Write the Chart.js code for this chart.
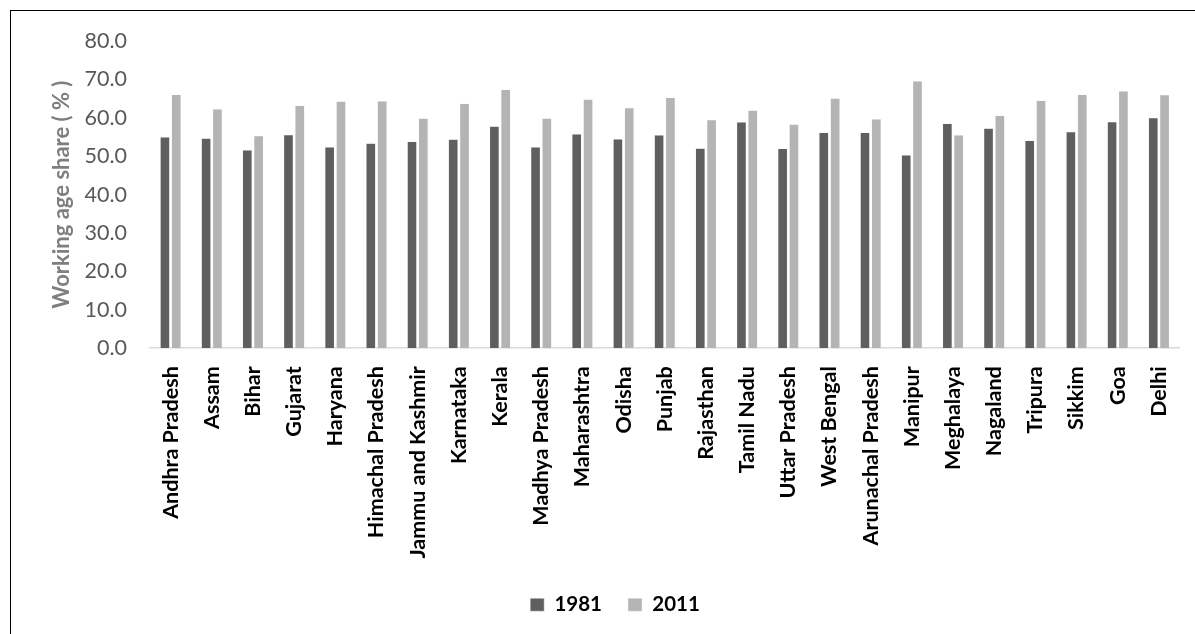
<!DOCTYPE html>
<html>
<head>
<meta charset="utf-8">
<script src="https://cdn.jsdelivr.net/npm/chart.js@4"></script>
<style>
  html, body { margin: 0; padding: 0; background: #fff; }
  #wrap { position: relative; width: 1195px; height: 634px; overflow: hidden; }
  #frame { position: absolute; left: 10px; top: 10px; width: 1200px; height: 700px; border-left: 1.5px solid #000; border-top: 1.5px solid #000; box-sizing: border-box; pointer-events: none; }
  canvas { position: absolute; left: 0; top: 0; }
</style>
</head>
<body>
<div id="wrap">
  <canvas id="c" width="1195" height="634"></canvas>
  <div id="frame"></div>
</div>
<script>
const categories = ["Andhra Pradesh","Assam","Bihar","Gujarat","Haryana","Himachal Pradesh","Jammu and Kashmir","Karnataka","Kerala","Madhya Pradesh","Maharashtra","Odisha","Punjab","Rajasthan","Tamil Nadu","Uttar Pradesh","West Bengal","Arunachal Pradesh","Manipur","Meghalaya","Nagaland","Tripura","Sikkim","Goa","Delhi"];
const values1981 = [55.0,54.7,51.6,55.6,52.4,53.4,53.8,54.4,57.8,52.4,55.8,54.5,55.5,52.1,58.9,52.0,56.2,56.2,50.3,58.5,57.3,54.1,56.4,59.0,60.0];
const values2011 = [66.1,62.3,55.3,63.2,64.3,64.4,59.9,63.7,67.4,59.9,64.8,62.6,65.3,59.5,62.0,58.3,65.1,59.7,69.6,55.5,60.6,64.5,66.1,67.0,66.0];
const seriesLabels = ["1981","2011"];
const yTicks = [0,10,20,30,40,50,60,70,80];

new Chart(document.getElementById('c'), {
  type: 'bar',
  data: {
    labels: categories,
    datasets: [
      { label: seriesLabels[0], data: values1981, backgroundColor: '#5f5f5f', borderColor: '#f0f0f0', borderWidth: 0.5, categoryPercentage: 0.55, barPercentage: 0.85 },
      { label: seriesLabels[1], data: values2011, backgroundColor: '#b4b4b4', borderColor: '#f0f0f0', borderWidth: 0.5, categoryPercentage: 0.55, barPercentage: 0.85 }
    ]
  },
  options: {
    responsive: false,
    animation: false,
    layout: { padding: { left: 49, right: 14, top: 41, bottom: 9 } },
    plugins: {
      legend: {
        position: 'bottom',
        labels: {
          boxWidth: 14, boxHeight: 13, color: '#000',
          font: { family: 'Lato, "Open Sans", sans-serif', size: 20.5, weight: 'bold' },
          padding: 26
        }
      },
      tooltip: { enabled: false }
    },
    scales: {
      x: {
        grid: { display: false },
        border: { color: '#d9d9d9', width: 1.5 },
        ticks: {
          minRotation: 90, maxRotation: 90, autoSkip: false, color: '#000', padding: 10,
          font: { family: 'Lato, "Open Sans", sans-serif', size: 21.5, weight: 'bold' }
        }
      },
      y: {
        min: 0, max: 80,
        afterBuildTicks: (axis) => { axis.ticks = yTicks.map(v => ({ value: v })); },
        afterFit: (axis) => { axis.width = 101; },
        grid: { display: false, drawTicks: false },
        border: { display: false },
        ticks: {
          color: '#595959', padding: 23,
          font: { family: 'Lato, "Open Sans", sans-serif', size: 21.5 },
          callback: (v) => Number(v).toFixed(1)
        },
        title: {
          display: true, text: 'Working age share ( % )', color: '#7f7f7f',
          font: { family: 'Lato, "Open Sans", sans-serif', size: 22, weight: 'bold' },
          padding: { top: 0, bottom: 8 }
        }
      }
    }
  }
});
</script>
</body>
</html>
